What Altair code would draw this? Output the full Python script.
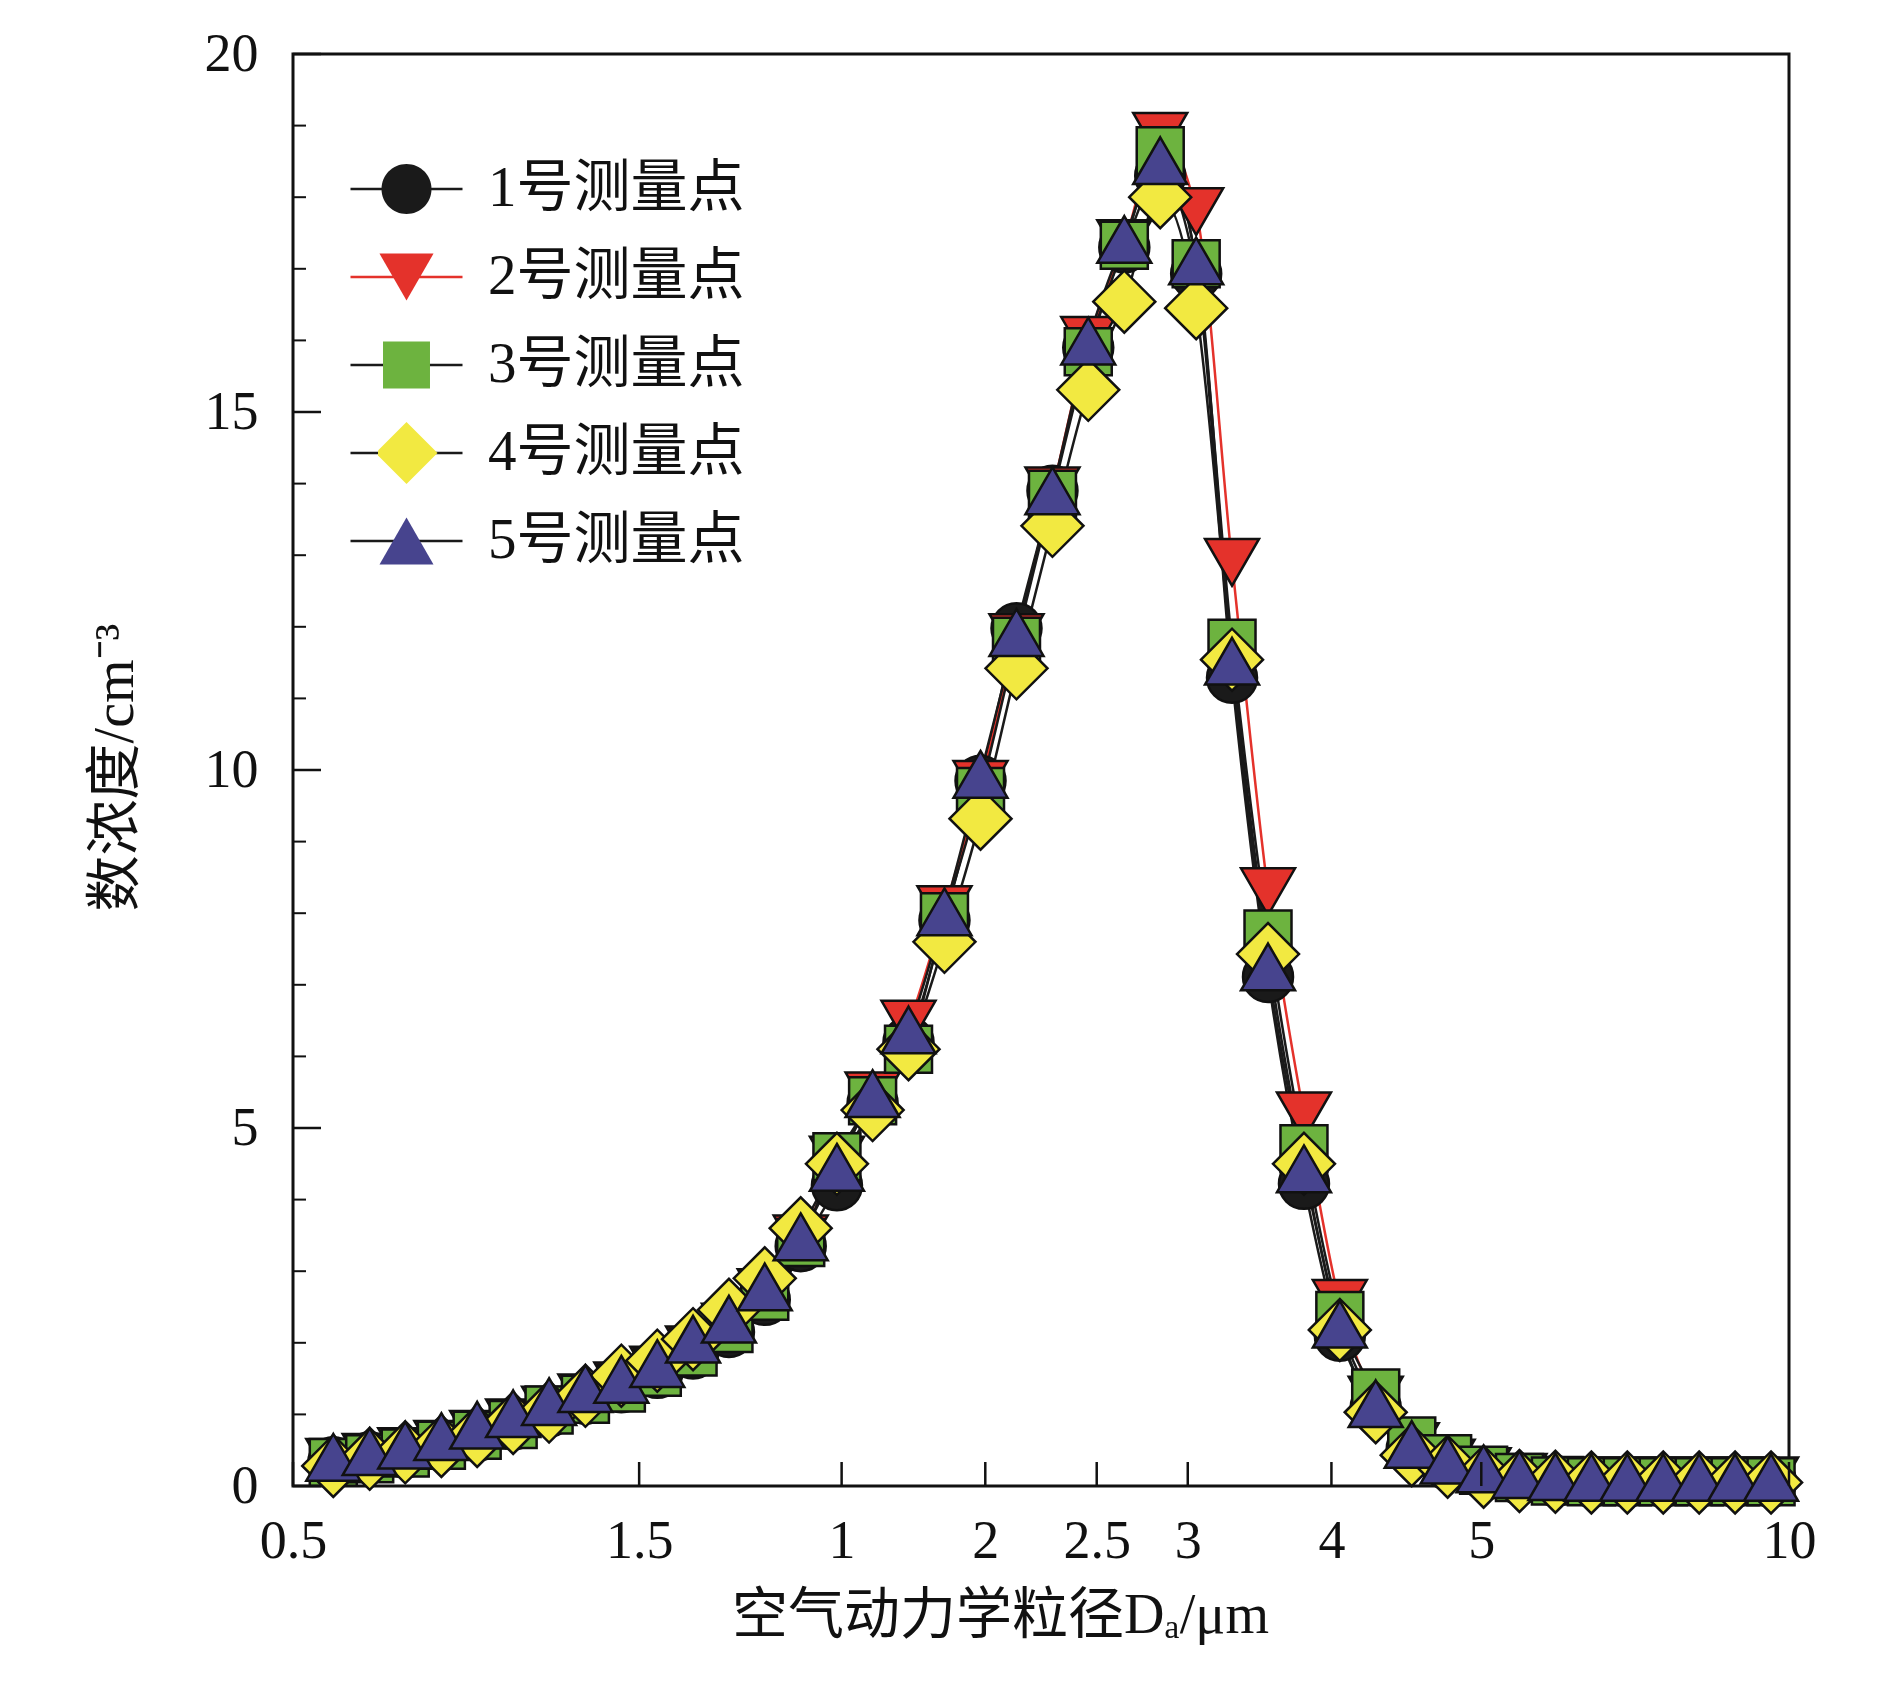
import altair as alt
import pandas as pd

# ---------------- data ----------------
diameters = [0.542, 0.583, 0.626, 0.673, 0.723, 0.777, 0.835, 0.898, 0.965, 1.037,
             1.114, 1.197, 1.286, 1.382, 1.486, 1.596, 1.715, 1.843, 1.981, 2.129,
             2.288, 2.458, 2.642, 2.839, 3.051, 3.278, 3.523, 3.786, 4.068, 4.371,
             4.698, 5.048, 5.425, 5.829, 6.264, 6.732, 7.234, 7.774, 8.354, 8.977, 9.647]

series_names = ["1号测量点", "2号测量点", "3号测量点", "4号测量点", "5号测量点"]

s1 = [0.33, 0.40, 0.47, 0.57, 0.70, 0.86, 1.04, 1.22, 1.38, 1.58,
      1.85, 2.15, 2.60, 3.35, 4.20, 5.35, 6.20, 7.90, 9.85, 11.98,
      13.90, 15.90, 17.30, 18.30, 16.93, 11.29, 7.11, 4.22, 2.10, 1.10,
      0.52, 0.30, 0.18, 0.10, 0.07, 0.06, 0.06, 0.06, 0.06, 0.06, 0.06]
s2 = [0.33, 0.40, 0.48, 0.58, 0.72, 0.88, 1.06, 1.23, 1.40, 1.62,
      1.90, 2.22, 2.70, 3.45, 4.55, 5.45, 6.45, 8.05, 9.80, 11.85,
      13.90, 16.00, 17.35, 18.85, 17.80, 12.90, 8.30, 5.17, 2.55, 1.20,
      0.55, 0.32, 0.20, 0.12, 0.08, 0.07, 0.07, 0.07, 0.07, 0.07, 0.07]
s3 = [0.33, 0.38, 0.46, 0.57, 0.71, 0.86, 1.06, 1.21, 1.37, 1.59,
      1.87, 2.20, 2.65, 3.40, 4.60, 5.38, 6.10, 7.95, 9.70, 11.80,
      13.85, 15.84, 17.33, 18.65, 17.07, 11.77, 7.71, 4.71, 2.38, 1.30,
      0.63, 0.38, 0.22, 0.12, 0.07, 0.06, 0.06, 0.06, 0.06, 0.06, 0.06]
s4 = [0.28, 0.38, 0.47, 0.56, 0.70, 0.88, 1.04, 1.26, 1.54, 1.75,
      2.05, 2.46, 2.90, 3.60, 4.50, 5.25, 6.10, 7.60, 9.32, 11.42,
      13.41, 15.31, 16.54, 18.00, 16.45, 11.54, 7.43, 4.50, 2.18, 1.03,
      0.43, 0.27, 0.13, 0.07, 0.06, 0.05, 0.05, 0.05, 0.05, 0.05, 0.05]
s5 = [0.40, 0.48, 0.57, 0.69, 0.85, 1.01, 1.18, 1.36, 1.49, 1.71,
      2.05, 2.33, 2.78, 3.48, 4.45, 5.48, 6.37, 8.02, 9.94, 11.92,
      13.90, 15.99, 17.41, 18.51, 17.11, 11.52, 7.25, 4.43, 2.26, 1.15,
      0.58, 0.36, 0.24, 0.16, 0.13, 0.12, 0.12, 0.12, 0.12, 0.12, 0.12]
series_values = [s1, s2, s3, s4, s5]

x_tick_values = [0.5, 1, 1.5, 2, 2.5, 3, 4, 5.4, 10]
x_tick_labels = ["0.5", "1.5", "1", "2", "2.5", "3", "4", "5", "10"]
y_tick_values = [0, 5, 10, 15, 20]
y_minor_values = [1, 2, 3, 4, 6, 7, 8, 9, 11, 12, 13, 14, 16, 17, 18, 19]

# ---------------- styles ----------------
fill_colors = ["#1a1a1a", "#e4322b", "#6db33f", "#f2e941", "#47448e"]
line_colors = ["#1a1a1a", "#e4322b", "#1a1a1a", "#1a1a1a", "#1a1a1a"]
shape_paths = [
    "M0.926,0A0.926,0.926,0,1,1,-0.926,0A0.926,0.926,0,1,1,0.926,0Z",
    "M-1,-0.866L1,-0.866L0,0.866Z",
    "M-0.87,-0.87L0.87,-0.87L0.87,0.87L-0.87,0.87Z",
    "M-1.148,0L0,-1.148L1.148,0L0,1.148Z",
    "M0,-0.866L1,0.866L-1,0.866Z",
]
line_keys = ["L1", "L2", "L3", "L4", "L5"]

W, H = 1496, 1432
SERIF = "Liberation Serif, Noto Sans CJK SC"
INK = "#111111"

rows = []
for name, lkey, vals in zip(series_names, line_keys, series_values):
    for d, v in zip(diameters, vals):
        rows.append({"d": d, "v": v, "series": name, "lseries": lkey})
df = pd.DataFrame(rows)

label_expr = "''"
for val, lab in reversed(list(zip(x_tick_values, x_tick_labels))):
    label_expr = f"abs(datum.value - {val}) < 1e-6 ? '{lab}' : ({label_expr})"

xscale = alt.Scale(type="log", domain=[0.5, 10], nice=False)
yscale = alt.Scale(domain=[0, 20], nice=False)

x_axis = alt.Axis(values=x_tick_values, labelExpr=label_expr, grid=False, ticks=False,
                  domain=False, labelFont=SERIF, labelFontSize=54, labelColor=INK,
                  labelPadding=28, labelFlush=False, labelOverlap=False,
                  title="空气动力学粒径Dₐ/μm", titleFont=SERIF, titleFontSize=56,
                  titleFontWeight="normal", titleColor=INK, titlePadding=20, titleX=707)
y_axis = alt.Axis(values=y_tick_values, grid=False, ticks=False, domain=False,
                  labelFont=SERIF, labelFontSize=54, labelColor=INK, labelPadding=35,
                  labelFlush=False,
                  title="数浓度/cm⁻³", titleFont=SERIF, titleFontSize=56,
                  titleFontWeight="normal", titleColor=INK, titleAngle=270,
                  titleX=-178, titleY=713, titleBaseline="middle", titleAlign="center")

x_enc = alt.X("d:Q", scale=xscale, axis=x_axis)
y_enc = alt.Y("v:Q", scale=yscale, axis=y_axis)

shape_legend = alt.Legend(
    title=None, orient="none", legendX=85, legendY=104, clipHeight=62, rowPadding=26,
    padding=0, labelFont=SERIF, labelFontSize=57, labelColor=INK, labelOffset=53,
    labelLimit=600, symbolSize=2916, symbolStrokeColor=INK, symbolStrokeWidth=2.5,
    symbolOpacity=1, zindex=2,
)
line_legend = alt.Legend(
    title=None, orient="none", legendX=56, legendY=104, clipHeight=62, rowPadding=26,
    padding=0, labelFont=SERIF, labelFontSize=57, labelExpr="''", labelLimit=600,
    symbolType="stroke", symbolSize=12544, symbolStrokeWidth=2.5, zindex=1,
)

lines = alt.Chart(df).mark_line(interpolate="monotone", strokeWidth=2.5).encode(
    x=x_enc, y=y_enc,
    stroke=alt.Stroke("lseries:N", scale=alt.Scale(domain=line_keys, range=line_colors),
                      legend=line_legend),
)

points = alt.Chart(df).mark_point(filled=True, size=2916, stroke=INK, strokeWidth=2.5,
                                  opacity=1, fillOpacity=1).encode(
    x=x_enc, y=y_enc,
    fill=alt.Fill("series:N", scale=alt.Scale(domain=series_names, range=fill_colors),
                  legend=shape_legend),
    shape=alt.Shape("series:N", scale=alt.Scale(domain=series_names, range=shape_paths),
                    legend=shape_legend),
)

ymaj = alt.Chart(pd.DataFrame({"v": y_tick_values})).mark_rule(color=INK, strokeWidth=2.5).encode(
    y=y_enc, x=alt.value(0), x2=alt.value(28))
ymin = alt.Chart(pd.DataFrame({"v": y_minor_values})).mark_rule(color=INK, strokeWidth=2).encode(
    y=y_enc, x=alt.value(0), x2=alt.value(13))
xmaj = alt.Chart(pd.DataFrame({"d": x_tick_values})).mark_rule(color=INK, strokeWidth=2.5).encode(
    x=x_enc, y=alt.value(H), y2=alt.value(H - 24))

chart = alt.layer(lines, points, ymaj, ymin, xmaj).properties(
    width=W, height=H,
    autosize=alt.AutoSizeParams(type="none"),
    padding={"left": 285, "top": 46, "right": 93, "bottom": 207},
    background="white",
).configure_view(stroke=INK, strokeWidth=3)

chart.save("out.html", embed_options={"renderer": "svg", "actions": False})
